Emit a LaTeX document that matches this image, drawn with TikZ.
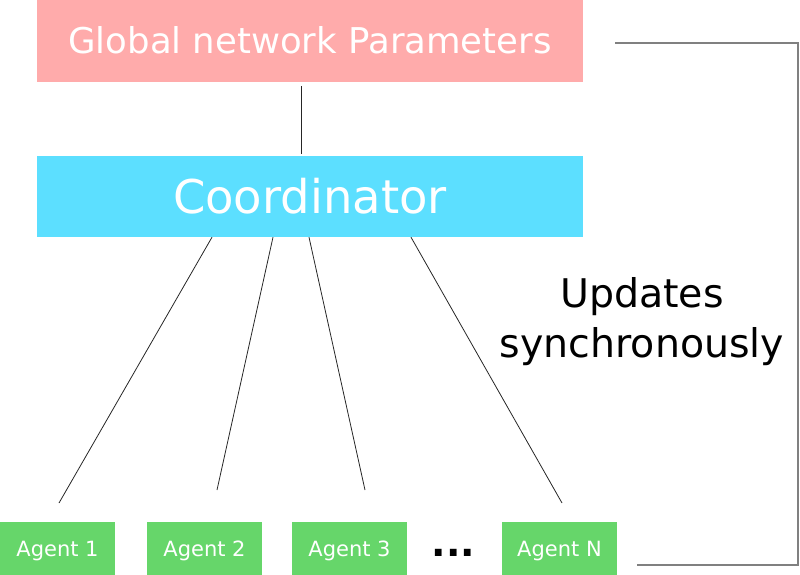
\documentclass[tikz,border=0pt]{standalone}
\usepackage{fontspec}
\setmainfont{DejaVu Sans}
\definecolor{globred}{HTML}{FFABAB}
\definecolor{coordblue}{HTML}{5CDFFF}
\definecolor{agentgreen}{HTML}{66D66A}

\begin{document}
\begin{tikzpicture}[x=1pt, y=-1pt,
    box/.style={inner sep=0pt, text=white, text depth=0pt},
    link/.style={draw=black!85, line width=0.8pt},
    agent/.style={box, fill=agentgreen, minimum width=115pt, minimum height=53pt, text height=15.3pt, font=\fontsize{21}{25}\selectfont}]
    \useasboundingbox (0,0) rectangle (800,575);

    \node[box, fill=globred, minimum width=546pt, minimum height=82pt, text height=26pt, font=\fontsize{35.5}{42}\selectfont] (glob) at (310,41) {Global network Parameters};
    \node[box, fill=coordblue, minimum width=546pt, minimum height=81pt, text height=34pt, font=\fontsize{46.5}{55}\selectfont] (coord) at (310,196.5) {Coordinator};

    \node[agent] (agent1) at (57.5,548.5) {Agent 1};
    \node[agent] (agent2) at (204.5,548.5) {Agent 2};
    \node[agent] (agent3) at (349.5,548.5) {Agent 3};
    \node[agent] (agentN) at (559.5,548.5) {Agent N};
    \node[anchor=base, inner sep=0pt, font=\bfseries\fontsize{38}{45}\selectfont] (dots) at (453.5,556) {...};

    \draw[link] ([xshift=-9pt, yshift=-4pt]glob.south) -- ([xshift=-9pt, yshift=2pt]coord.north);

    \coordinate (end1) at (59,503);
    \coordinate (end2) at (217,490);
    \coordinate (end3) at (365,490);
    \coordinate (endN) at (562,503);
    \draw[link] ([xshift=-98pt]coord.south) -- (end1);
    \draw[link] ([xshift=-37pt]coord.south) -- (end2);
    \draw[link] ([xshift=-1pt]coord.south) -- (end3);
    \draw[link] ([xshift=101pt]coord.south) -- (endN);

    \coordinate (syncA) at (615,43);
    \coordinate (syncB) at (637,565);
    \draw[gray, line width=1.3pt] (syncA) -- (798,43) -- (798,565) -- (syncB);

    \node[anchor=base, align=center, inner sep=0pt, font=\fontsize{39.5}{50}\selectfont] (sync) at (642,357) {Updates\\synchronously};
\end{tikzpicture}
\end{document}
